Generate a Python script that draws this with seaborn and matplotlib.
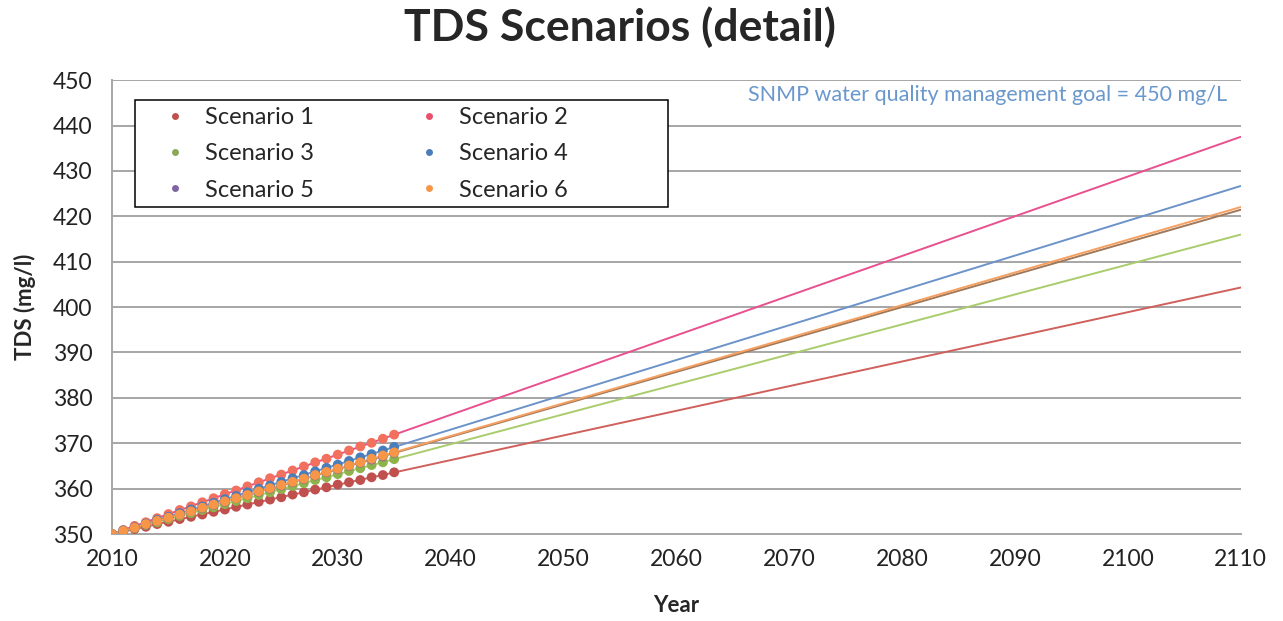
import numpy as np
import pandas as pd
import matplotlib
matplotlib.use("Agg")
import matplotlib.pyplot as plt
from matplotlib.lines import Line2D
from matplotlib.patches import Rectangle
import seaborn as sns

# yearly values, 2010-2035
years = list(range(2010, 2036))
scenario_1 = [350.0, 350.5, 351.1, 351.6, 352.2, 352.7, 353.3, 353.8, 354.3, 354.9,
              355.4, 356.0, 356.5, 357.1, 357.6, 358.1, 358.7, 359.2, 359.8, 360.3,
              360.9, 361.4, 361.9, 362.5, 363.0, 363.6]
scenario_2 = [350.0, 350.9, 351.8, 352.6, 353.5, 354.4, 355.3, 356.1, 357.0, 357.9,
              358.8, 359.6, 360.5, 361.4, 362.3, 363.1, 364.0, 364.9, 365.8, 366.6,
              367.5, 368.4, 369.3, 370.1, 371.0, 371.9]
scenario_3 = [350.0, 350.7, 351.3, 352.0, 352.6, 353.3, 354.0, 354.6, 355.3, 355.9,
              356.6, 357.3, 357.9, 358.6, 359.2, 359.9, 360.6, 361.2, 361.9, 362.5,
              363.2, 363.9, 364.5, 365.2, 365.8, 366.5]
scenario_4 = [350.0, 350.8, 351.5, 352.3, 353.1, 353.8, 354.6, 355.4, 356.1, 356.9,
              357.7, 358.4, 359.2, 360.0, 360.7, 361.5, 362.3, 363.0, 363.8, 364.6,
              365.3, 366.1, 366.9, 367.6, 368.4, 369.2]
scenario_5 = [350.0, 350.7, 351.4, 352.1, 352.9, 353.6, 354.3, 355.0, 355.7, 356.4,
              357.1, 357.9, 358.6, 359.3, 360.0, 360.7, 361.4, 362.1, 362.9, 363.6,
              364.3, 365.0, 365.7, 366.4, 367.1, 367.9]
scenario_6 = [350.0, 350.7, 351.4, 352.2, 352.9, 353.6, 354.3, 355.0, 355.8, 356.5,
              357.2, 357.9, 358.6, 359.4, 360.1, 360.8, 361.5, 362.2, 363.0, 363.7,
              364.4, 365.1, 365.8, 366.6, 367.3, 368.0]

names = ["Scenario 1", "Scenario 2", "Scenario 3", "Scenario 4", "Scenario 5", "Scenario 6"]
series = [scenario_1, scenario_2, scenario_3, scenario_4, scenario_5, scenario_6]

dot_colors = ["#C0504D", "#F2705E", "#8DB34A", "#4A7EBB", "#8064A2", "#F79646"]
line_colors = ["#D0605C", "#E8508E", "#A9CC6C", "#6C93C9", "#A0785A", "#F5A060"]
legend_colors = ["#C0504D", "#E8506E", "#8DA65A", "#4A7EBB", "#8064A2", "#F79646"]

df = pd.DataFrame({
    "Year": years * len(names),
    "TDS": sum(series, []),
    "Scenario": np.repeat(names, len(years)),
})

sns.set_style("white")
plt.rcParams["font.family"] = ["Lato", "DejaVu Sans"]

fig = plt.figure(figsize=(12.83, 6.21), dpi=100)
ax = fig.add_axes([0.0873, 0.140, 0.8797, 0.731])
ax.set_xlim(2010, 2110)
ax.set_ylim(350, 450)

# trend lines (Excel-style linear fit, extended to the axis end)
for name, lc in zip(names, line_colors):
    sub = df[df["Scenario"] == name]
    sns.regplot(data=sub, x="Year", y="TDS", scatter=False, ci=None, truncate=False,
                ax=ax, color=lc, line_kws={"linewidth": 1.4, "zorder": 2})

sns.scatterplot(data=df, x="Year", y="TDS", hue="Scenario", palette=dot_colors,
                s=50, linewidth=0, ax=ax, legend=False, zorder=3)

ax.set_xlim(2010, 2110)
ax.set_ylim(350, 450)
ax.set_xticks(range(2010, 2111, 10))
ax.set_yticks(range(350, 451, 10))
ax.grid(axis="y", color="#A6A6A6", linewidth=1.4)
ax.set_axisbelow(True)
for side in ["top", "right"]:
    ax.spines[side].set_visible(False)
for side in ["left", "bottom"]:
    ax.spines[side].set_color("#A6A6A6")
    ax.spines[side].set_linewidth(1.4)
ax.tick_params(axis="both", direction="out", length=6, width=1.2, color="#A6A6A6",
               labelsize=16.5, labelcolor="#222222")
ax.tick_params(axis="y", pad=8)
ax.tick_params(axis="x", pad=5)

ax.set_xlabel("Year", fontsize=16, fontweight="bold", labelpad=18)
ax.set_ylabel("TDS (mg/l)", fontsize=16, fontweight="bold", labelpad=12)
fig.suptitle("TDS Scenarios (detail)", fontsize=32, fontweight="bold", x=0.483, y=0.99)

ax.text(0.988, 0.967, "SNMP water quality management goal = 450 mg/L",
        transform=ax.transAxes, ha="right", va="center", fontsize=15.5, color="#6A98CC")

# legend filled row by row: 1 2 / 3 4 / 5 6
order = [0, 2, 4, 1, 3, 5]
handles = [Line2D([], [], linestyle="none", marker="o", markersize=5,
                  markerfacecolor=legend_colors[i], markeredgewidth=0) for i in order]
labels = [names[i] for i in order]
ax.legend(handles, labels, ncol=2, loc="upper left", bbox_to_anchor=(0.035, 0.967),
          fontsize=17, frameon=False, borderpad=0, labelspacing=0.65,
          handletextpad=0.75, columnspacing=4.4, handlelength=1.0)
ax.add_patch(Rectangle((0.0204, 0.720), 0.4721, 0.236, transform=ax.transAxes,
                       facecolor="white", edgecolor="black", linewidth=1.1, zorder=4))
ax.get_legend().set_zorder(5)

fig.savefig("out.png", dpi=100)
